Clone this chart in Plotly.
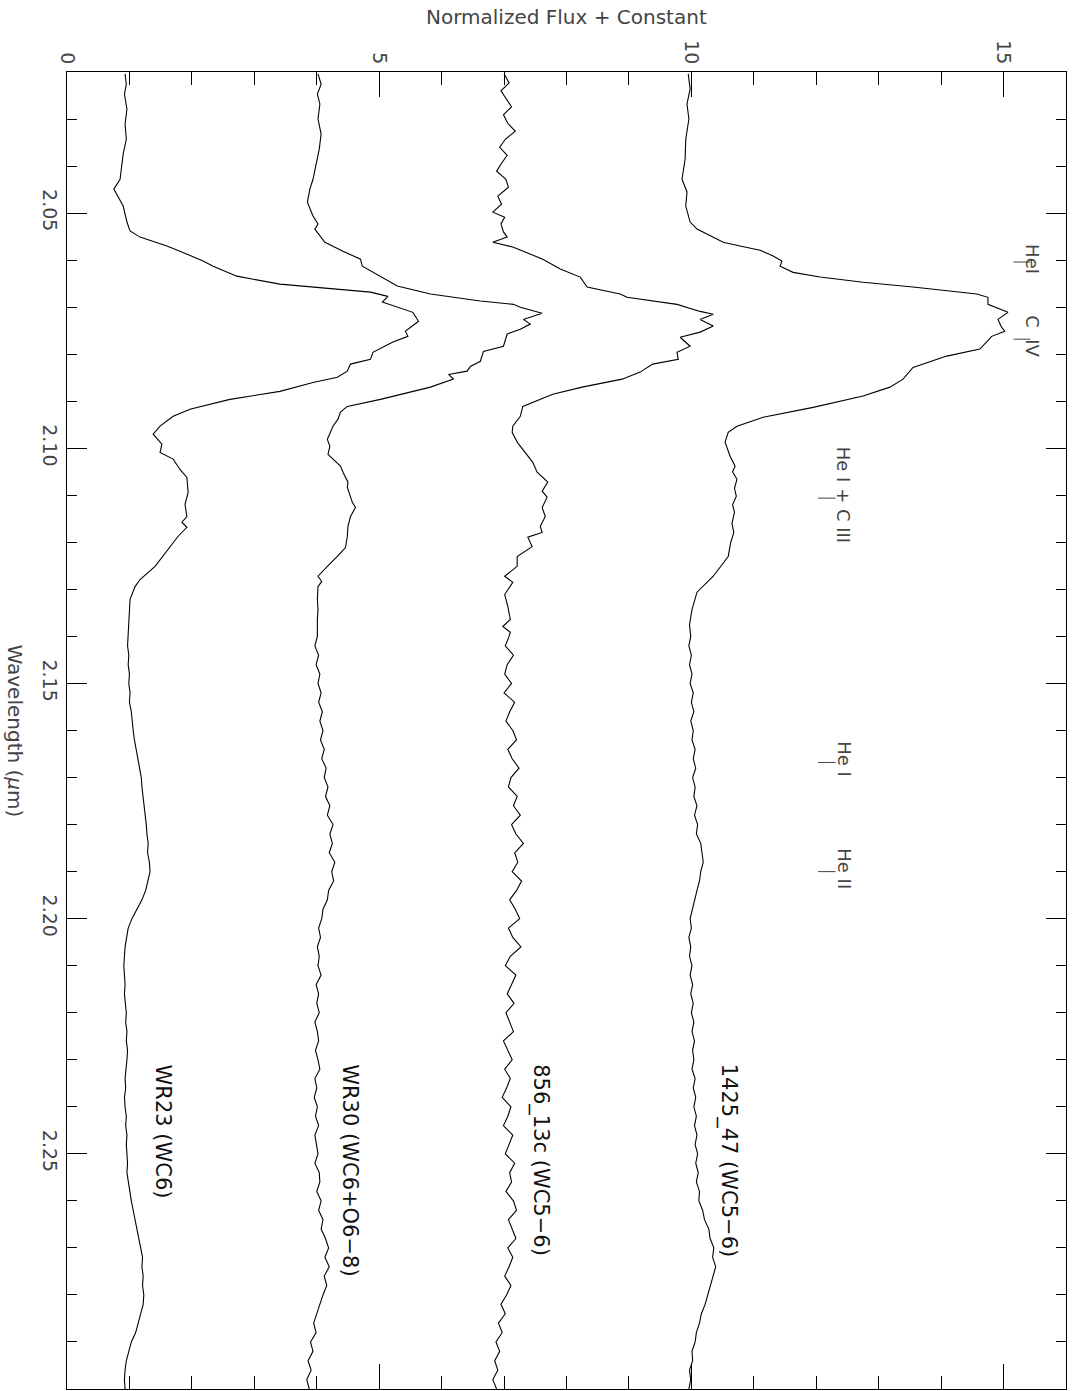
import plotly.graph_objects as go

# ---------------- data (wavelength in micron, normalized flux + constant) ----------------
wl_1425_head = [2.0204, 2.0236, 2.0268, 2.0300, 2.0343, 2.0385, 2.0428, 2.0455, 2.0485, 2.0519,
                2.0534, 2.0551, 2.0562, 2.0570, 2.0579, 2.0591, 2.0602, 2.0613, 2.0626, 2.0636,
                2.0647, 2.0657, 2.0672, 2.0679, 2.0694, 2.0704, 2.0711, 2.0726, 2.0743, 2.0751,
                2.0762, 2.0774, 2.0789, 2.0804, 2.0828, 2.0853, 2.0870, 2.0889, 2.0913, 2.0934,
                2.0953, 2.0966, 2.0987, 2.1017, 2.1038, 2.1050, 2.1066, 2.1085, 2.1102, 2.1120,
                2.1136, 2.1160, 2.1179, 2.1200, 2.1230, 2.1272, 2.1306, 2.1343, 2.1375]
fx_1425_head = [9.95, 9.98, 9.93, 9.96, 9.91, 9.90, 9.85, 9.93, 9.91, 9.98,
                10.09, 10.35, 10.51, 10.78, 11.10, 11.31, 11.45, 11.42, 11.63, 12.06,
                12.75, 13.55, 14.57, 14.75, 14.75, 14.94, 15.07, 14.91, 14.97, 15.02,
                14.81, 14.73, 14.62, 14.09, 13.55, 13.39, 13.18, 12.75, 11.95, 11.15,
                10.73, 10.59, 10.54, 10.62, 10.70, 10.66, 10.73, 10.69, 10.72, 10.66,
                10.69, 10.65, 10.68, 10.63, 10.59, 10.35, 10.09, 10.01, 9.97]

wl_856_head = [2.0204, 2.0223, 2.0240, 2.0257, 2.0274, 2.0291, 2.0309, 2.0326, 2.0343, 2.0360,
               2.0377, 2.0394, 2.0411, 2.0428, 2.0445, 2.0464, 2.0481, 2.0498, 2.0509, 2.0523,
               2.0540, 2.0551, 2.0562, 2.0572, 2.0598, 2.0619, 2.0636, 2.0657, 2.0672, 2.0679,
               2.0694, 2.0709, 2.0715, 2.0726, 2.0740, 2.0753, 2.0764, 2.0783, 2.0796, 2.0811,
               2.0821, 2.0838, 2.0853, 2.0870, 2.0885, 2.0911, 2.0932, 2.0953, 2.0966, 2.0987,
               2.1009, 2.1030, 2.1051, 2.1072, 2.1091, 2.1104, 2.1126, 2.1145, 2.1166, 2.1179,
               2.1189, 2.1209, 2.1230, 2.1251, 2.1272, 2.1285, 2.1311, 2.1336, 2.1364, 2.1379,
               2.1391]
fx_856_head = [7.00, 7.08, 6.95, 7.04, 7.12, 6.99, 7.06, 7.18, 7.02, 6.93,
               7.05, 6.96, 6.88, 7.03, 7.07, 6.90, 6.96, 6.82, 7.01, 6.95,
               6.99, 7.05, 6.82, 7.14, 7.62, 7.90, 8.22, 8.33, 8.86, 8.97,
               9.77, 10.14, 10.35, 10.14, 10.35, 10.14, 9.82, 9.98, 9.77, 9.79,
               9.38, 9.18, 8.89, 8.25, 7.78, 7.30, 7.26, 7.14, 7.13, 7.21,
               7.34, 7.46, 7.53, 7.70, 7.61, 7.69, 7.61, 7.66, 7.58, 7.61,
               7.38, 7.45, 7.21, 7.21, 7.01, 7.14, 7.01, 7.06, 7.10, 6.98,
               7.10]

wl_wr30_head = [2.0204, 2.0226, 2.0247, 2.0268, 2.0300, 2.0332, 2.0364, 2.0396, 2.0428, 2.0449,
                2.0477, 2.0506, 2.0523, 2.0534, 2.0562, 2.0581, 2.0598, 2.0613, 2.0626, 2.0655,
                2.0672, 2.0687, 2.0694, 2.0700, 2.0713, 2.0726, 2.0736, 2.0747, 2.0757, 2.0783,
                2.0794, 2.0815, 2.0826, 2.0836, 2.0843, 2.0853, 2.0870, 2.0879, 2.0896, 2.0911,
                2.0923, 2.0938, 2.0953, 2.0981, 2.0996, 2.1013, 2.1023, 2.1038, 2.1051, 2.1072,
                2.1083, 2.1102, 2.1115, 2.1126, 2.1145, 2.1166, 2.1187, 2.1211, 2.1230, 2.1251,
                2.1272, 2.1283, 2.1294, 2.1321, 2.1343, 2.1364]
fx_wr30_head = [4.02, 4.07, 4.01, 4.05, 4.02, 4.07, 4.04, 3.99, 3.94, 3.89,
                3.85, 3.94, 4.02, 3.97, 4.13, 4.42, 4.70, 4.73, 4.90, 5.29,
                5.82, 6.62, 7.15, 7.26, 7.61, 7.31, 7.42, 7.26, 7.05, 6.99,
                6.67, 6.62, 6.46, 6.41, 6.11, 6.19, 5.82, 5.54, 5.02, 4.49,
                4.38, 4.34, 4.26, 4.17, 4.21, 4.18, 4.26, 4.38, 4.42, 4.50,
                4.49, 4.54, 4.57, 4.62, 4.54, 4.50, 4.49, 4.46, 4.33, 4.17,
                4.02, 4.08, 4.02, 4.01, 4.02, 4.01]

wl_wr23_head = [2.0204, 2.0226, 2.0247, 2.0279, 2.0311, 2.0343, 2.0374, 2.0396, 2.0428, 2.0449,
                2.0460, 2.0485, 2.0519, 2.0538, 2.0551, 2.0570, 2.0581, 2.0602, 2.0613, 2.0634,
                2.0651, 2.0668, 2.0677, 2.0689, 2.0711, 2.0730, 2.0740, 2.0751, 2.0762, 2.0774,
                2.0796, 2.0811, 2.0821, 2.0836, 2.0849, 2.0860, 2.0879, 2.0896, 2.0917, 2.0932,
                2.0953, 2.0970, 2.0991, 2.1009, 2.1023, 2.1045, 2.1062, 2.1094, 2.1119, 2.1145,
                2.1157, 2.1168, 2.1187, 2.1215, 2.1251, 2.1279, 2.1294, 2.1321, 2.1364]
fx_wr23_head = [0.93, 0.95, 0.92, 0.96, 0.93, 0.95, 0.90, 0.88, 0.85, 0.75,
                0.80, 0.90, 0.96, 1.01, 1.17, 1.60, 1.81, 2.18, 2.34, 2.72,
                3.41, 4.86, 5.14, 5.05, 5.54, 5.63, 5.53, 5.42, 5.46, 5.22,
                4.90, 4.86, 4.54, 4.49, 4.33, 3.94, 3.41, 2.61, 1.97, 1.70,
                1.49, 1.38, 1.52, 1.49, 1.70, 1.81, 1.92, 1.94, 1.89, 1.92,
                1.84, 1.92, 1.78, 1.62, 1.41, 1.17, 1.09, 1.01, 0.99]

# common sampling of the red part of the spectra: 2.140 ... 2.300 micron
wl_tail = [round(2.140 + 0.002 * i, 3) for i in range(81)]

fx_1425_tail = [9.99, 9.96, 10.00, 9.97, 10.01, 9.98, 10.03, 10.00, 10.04, 9.99,
                10.03, 10.01, 10.06, 10.03, 10.07, 10.02, 10.06, 10.04, 10.09, 10.05,
                10.10, 10.08, 10.15, 10.17, 10.19, 10.15, 10.13, 10.09, 10.05, 10.02,
                9.98, 10.00, 9.96, 9.99, 9.97, 10.01, 9.98, 10.02, 9.99, 10.03,
                10.00, 10.04, 10.01, 10.05, 10.02, 10.04, 10.01, 10.06, 10.03, 10.07,
                10.04, 10.08, 10.05, 10.09, 10.06, 10.10, 10.07, 10.11, 10.08, 10.13,
                10.12, 10.18, 10.21, 10.28, 10.30, 10.36, 10.34, 10.39, 10.35, 10.31,
                10.26, 10.22, 10.16, 10.13, 10.08, 10.06, 10.01, 10.02, 9.97, 9.99,
                9.96]
fx_856_tail = [7.08, 7.02, 7.15, 7.05, 7.01, 7.12, 7.00, 7.17, 7.09, 7.03,
               7.14, 7.20, 7.06, 7.13, 7.24, 7.11, 7.07, 7.21, 7.15, 7.26,
               7.12, 7.19, 7.31, 7.17, 7.22, 7.13, 7.28, 7.20, 7.09, 7.18,
               7.25, 7.07, 7.14, 7.27, 7.10, 7.02, 7.19, 7.12, 7.05, 7.16,
               7.03, 7.09, 7.15, 6.99, 7.06, 7.13, 7.01, 7.10, 7.04, 6.97,
               7.11, 7.06, 6.99, 7.14, 7.08, 7.02, 7.17, 7.09, 7.12, 7.03,
               7.15, 7.20, 7.07, 7.13, 7.19, 7.06, 7.14, 7.08, 7.01, 7.11,
               7.04, 6.95, 7.02, 6.91, 6.97, 6.87, 6.93, 6.85, 6.90, 6.82,
               6.88]
fx_wr30_tail = [4.01, 3.97, 4.03, 3.99, 4.05, 4.02, 4.07, 4.03, 4.09, 4.05,
                4.10, 4.06, 4.12, 4.08, 4.15, 4.12, 4.18, 4.14, 4.21, 4.17,
                4.26, 4.21, 4.25, 4.20, 4.29, 4.24, 4.27, 4.19, 4.17, 4.10,
                4.08, 4.03, 4.06, 4.01, 4.04, 4.02, 4.07, 3.99, 4.03, 4.00,
                4.04, 3.97, 4.01, 4.03, 3.98, 4.02, 4.05, 3.97, 4.00, 3.96,
                4.01, 3.98, 4.03, 3.97, 4.00, 4.02, 3.97, 4.04, 4.05, 4.00,
                4.07, 4.03, 4.10, 4.07, 4.14, 4.19, 4.13, 4.20, 4.12, 4.16,
                4.10, 4.05, 4.01, 3.95, 3.99, 3.90, 3.94, 3.86, 3.91, 3.84,
                3.88]
fx_wr23_tail = [0.98, 0.97, 0.99, 0.98, 1.00, 0.99, 1.01, 1.00, 1.03, 1.04,
                1.06, 1.08, 1.11, 1.13, 1.16, 1.19, 1.20, 1.22, 1.24, 1.25,
                1.27, 1.28, 1.30, 1.29, 1.32, 1.33, 1.30, 1.26, 1.20, 1.12,
                1.04, 0.98, 0.95, 0.93, 0.92, 0.91, 0.92, 0.93, 0.92, 0.94,
                0.95, 0.94, 0.96, 0.95, 0.97, 0.96, 0.95, 0.93, 0.94, 0.92,
                0.93, 0.95, 0.94, 0.96, 0.95, 0.96, 0.97, 0.96, 0.98, 1.00,
                1.03, 1.06, 1.09, 1.12, 1.16, 1.19, 1.21, 1.20, 1.22, 1.21,
                1.23, 1.22, 1.18, 1.15, 1.10, 1.03, 0.99, 0.95, 0.93, 0.92,
                0.93]

star_labels = ["1425_47 (WC5\u22126)", "856_13c (WC5\u22126)", "WR30 (WC6+O6\u22128)", "WR23 (WC6)"]
label_flux = [10.6, 7.59, 4.53, 1.53]

line_ids = ["HeI", "C\u00a0\u00a0IV", "He I + C III", "He I", "He II"]
line_wl = [2.0604, 2.0768, 2.1106, 2.1668, 2.1900]
line_row = ["upper", "upper", "lower", "lower", "lower"]

flux_ticks = [0, 5, 10, 15]
wl_ticks = [2.05, 2.10, 2.15, 2.20, 2.25]
wl_ticktext = ["2.05", "2.10", "2.15", "2.20", "2.25"]

# ---------------- figure ----------------
spectra = [
    (fx_1425_head + fx_1425_tail, wl_1425_head + wl_tail),
    (fx_856_head + fx_856_tail, wl_856_head + wl_tail),
    (fx_wr30_head + fx_wr30_tail, wl_wr30_head + wl_tail),
    (fx_wr23_head + fx_wr23_tail, wl_wr23_head + wl_tail),
]

fig = go.Figure()
for fx, wl in spectra:
    fig.add_trace(go.Scatter(x=fx, y=wl, mode="lines",
                             line=dict(color="black", width=1.1),
                             hoverinfo="skip", showlegend=False))

FONT = "DejaVu Sans"
axis_font = dict(family=FONT, size=19, color="#444")
title_font = dict(family=FONT, size=20, color="#444")

annotations = []
for name, fxpos in zip(star_labels, label_flux):
    annotations.append(dict(x=fxpos, y=2.2305, xref="x", yref="y", text=name,
                            textangle=90, showarrow=False, xanchor="center",
                            yanchor="top", font=dict(family=FONT, size=21, color="#111")))

shapes = []
for name, w, row in zip(line_ids, line_wl, line_row):
    if row == "upper":
        m0, m1, tx = 15.16, 15.43, 15.47
    else:
        m0, m1, tx = 12.03, 12.31, 12.45
    shapes.append(dict(type="line", xref="x", yref="y", x0=m0, x1=m1, y0=w, y1=w,
                       line=dict(color="#444", width=1)))
    annotations.append(dict(x=tx, y=w, xref="x", yref="y", text=name, textangle=90,
                            showarrow=False, xanchor="center", yanchor="middle",
                            yshift=3, font=dict(family=FONT, size=18, color="#444")))

annotations.append(dict(x=0.5, y=1, xref="paper", yref="paper", yshift=55,
                        text="Normalized Flux + Constant", showarrow=False,
                        xanchor="center", yanchor="middle", font=title_font))
annotations.append(dict(x=0, y=0.5, xref="paper", yref="paper", xshift=-52,
                        text="Wavelength (<i>\u03bc</i>m)", textangle=90, showarrow=False,
                        xanchor="center", yanchor="middle", font=title_font))

fig.update_layout(
    width=1082, height=1391,
    margin=dict(l=67, r=16, t=72, b=2),
    paper_bgcolor="white", plot_bgcolor="white",
    showlegend=False,
    annotations=annotations,
    shapes=shapes,
    xaxis=dict(range=[0, 16], side="top", tickmode="array", tickvals=flux_ticks,
               ticktext=[str(t) for t in flux_ticks], tickangle=90,
               ticks="inside", ticklen=25, tickwidth=1, tickcolor="black",
               minor=dict(tickmode="linear", tick0=0, dtick=1, ticks="inside",
                          ticklen=13, tickwidth=1, tickcolor="black"),
               showline=True, linecolor="black", linewidth=1, mirror="ticks",
               showgrid=False, zeroline=False, tickfont=axis_font),
    yaxis=dict(range=[2.30, 2.02], tickmode="array", tickvals=wl_ticks,
               ticktext=wl_ticktext, tickangle=90,
               ticks="inside", ticklen=20, tickwidth=1, tickcolor="black",
               minor=dict(tickmode="linear", tick0=2.0, dtick=0.01, ticks="inside",
                          ticklen=10, tickwidth=1, tickcolor="black"),
               showline=True, linecolor="black", linewidth=1, mirror="ticks",
               showgrid=False, zeroline=False, tickfont=axis_font),
)

fig.write_html("out.html")
